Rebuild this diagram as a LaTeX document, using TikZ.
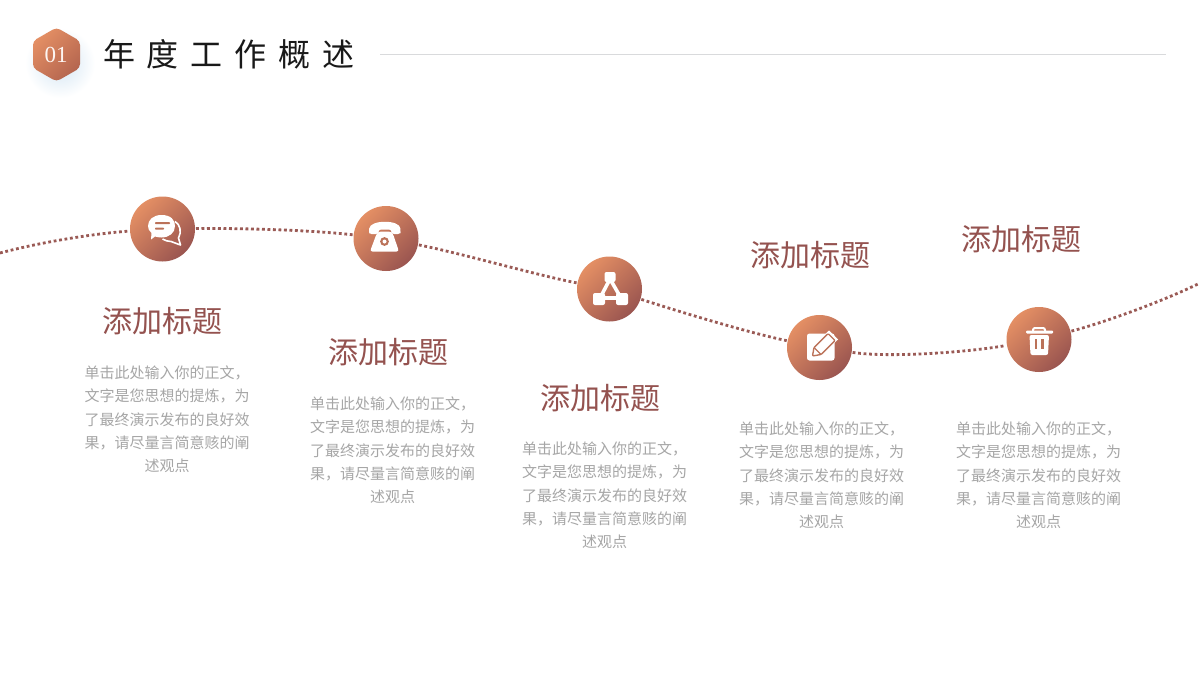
\documentclass[tikz,border=0pt]{standalone}
\usepackage{fontspec}
\setmainfont{Liberation Serif}
\newfontfamily\cjk{Noto Sans CJK SC}
\usetikzlibrary{calc}
\definecolor{gradA}{HTML}{E48F64}
\definecolor{gradB}{HTML}{9A5550}
\definecolor{hexB}{HTML}{B4654F}
\definecolor{midc}{HTML}{BB7259}
\definecolor{headc}{HTML}{94524F}
\definecolor{bodyc}{HTML}{A6A6A6}
\definecolor{dotc}{HTML}{9A5A55}
\definecolor{rulec}{HTML}{D9DADC}
\definecolor{glowc}{HTML}{D3E5F3}
\tikzset{
  disc/.style={circle,minimum size=65pt,inner sep=0pt,outer sep=1pt,top color=gradA,bottom color=gradB,shading angle=45},
  dots/.style={line width=2.8pt,dotc,dash pattern=on 2.8pt off 2.7pt},
  heading/.style={font=\cjk\fontsize{30}{34}\selectfont,text=headc,inner sep=0pt},
  bodytxt/.style={font=\cjk\fontsize{15}{23.3}\selectfont,text=bodyc,align=center,inner sep=0pt,anchor=center},
  ico/.style={fill=white,draw=none},
  cut/.style={fill=midc,draw=none}
}
\newcommand{\bodycopy}{单击此处输入你的正文，\\文字是您思想的提炼，为\\了最终演示发布的良好效\\果，请尽量言简意赅的阐\\述观点}
\begin{document}
\begin{tikzpicture}[x=1pt,y=-1pt]
\useasboundingbox (0,0) rectangle (1200,675);
\fill[white] (0,0) rectangle (1200,675);
% header
\shade[inner color=glowc,outer color=white] (60,63) circle (35);
\shade[top color=gradA,bottom color=hexB,shading angle=45,rounded corners=4pt]
  (56.5,27.5) -- (80,41) -- (80,68) -- (56.5,81.5) -- (33,68) -- (33,41) -- cycle;
\node[text=white!92!gradA,font=\fontsize{23}{26}\selectfont,inner sep=0pt] (num) at (56,55) {01};
\node[anchor=west,inner sep=0pt,font=\cjk\fontsize{32}{36}\selectfont,text=black!90] (title) at (103,54)
  {年\hspace{11.8pt}度\hspace{11.8pt}工\hspace{11.8pt}作\hspace{11.8pt}概\hspace{11.8pt}述};
\coordinate (ruleL) at (380,54.5);
\coordinate (ruleR) at (1166,54.5);
\draw[rulec,line width=1pt] (ruleL) -- (ruleR);
% discs
\node[disc] (c1) at (162.5,229) {};
\node[disc] (c2) at (386,238.5) {};
\node[disc] (c3) at (609.5,289) {};
\node[disc] (c4) at (819.5,347.5) {};
\node[disc] (c5) at (1039,339.5) {};
\coordinate (startL) at (0,253);
\coordinate (endR) at (1200,283);
% connectors
\draw[dots] (startL) .. controls (45,241) and (100,233) .. (c1);
\draw[dots] (c1) .. controls (240,228) and (310,230) .. (c2);
\draw[dots] (c2) .. controls (460,253) and (540,276) .. (c3);
\draw[dots] (c3) .. controls (680,312) and (750,333) .. (c4);
\draw[dots] (c4) .. controls (890,358) and (970,352) .. (c5);
\draw[dots] (c5) .. controls (1095,325) and (1155,305) .. (endR);
% chat icon
\draw[white,line width=1.6pt,line join=round] (175,221.5) .. controls (180,224) and (182,232) .. (178.5,238) -- (180.5,245) -- (171,241.5) .. controls (168,241.5) and (165,240.5) .. (162.5,239);
\fill[ico] (161.5,215) .. controls (171,215) and (175,220) .. (175,226) .. controls (175,233) and (169,237.5) .. (161.5,237.5)
  .. controls (159,237.5) and (157,237) .. (155,236.5) -- (151,239.5) -- (151.5,233) .. controls (149,231) and (148,228.5) .. (148,226) .. controls (148,220) and (153,215) .. (161.5,215) -- cycle;
\fill[cut,rounded corners=.8pt] (155,222) rectangle (170,224.2);
\fill[cut,rounded corners=.8pt] (155,227.5) rectangle (164,229.7);
% phone icon
\fill[ico,rounded corners=2.5pt] (369,231) .. controls (370,219.5) and (400,219.5) .. (400.5,231) -- (400.5,234) -- (391.5,234) -- (391.5,229.5) -- (378.5,229.5) -- (378.5,234) -- (369,234) -- cycle;
\fill[ico,rounded corners=2.5pt] (379,231.5) -- (391,231.5) -- (393,234) -- (399,251.5) -- (370,251.5) -- (376.5,234) -- cycle;
\fill[cut] (384.5,241.5) circle (4.4);
\fill[ico] (384.5,241.5) circle (2);
% network icon
\draw[white,line width=3.6pt,line join=round] (610,279) -- (600,298) -- (621,298) -- cycle;
\fill[ico,rounded corners=2pt] (604.5,272) rectangle (615.5,282);
\fill[ico,rounded corners=2pt] (593,293) rectangle (605,305);
\fill[ico,rounded corners=2pt] (616,293) rectangle (628,305);
% note icon
\fill[ico,rounded corners=2.5pt] (807,333.5) rectangle (834.5,360.5);
\fill[ico] (829,330.5) -- (838,339.5) -- (820,357) -- (811,348) -- cycle;
\draw[midc,line width=1.4pt,line join=round,rounded corners=1pt] (812.5,356) -- (814,347.5) -- (828,333.5) -- (835,340.5) -- (821,354.5) -- cycle;
\draw[midc,line width=1.2pt] (814.5,348) -- (820.5,354);
% trash icon
\draw[white,line width=2pt,rounded corners=2pt] (1033,332) -- (1033,328) -- (1045,328) -- (1045,332);
\fill[ico,rounded corners=1pt] (1026,330.5) rectangle (1053,333.5);
\fill[ico,rounded corners=2pt] (1029.5,335) -- (1049,335) -- (1048,355) -- (1030.5,355) -- cycle;
\fill[cut] (1035,339) rectangle (1037.2,349);
\fill[cut] (1041.3,339) rectangle (1043.5,349);
% headings
\node[heading] (h1) at (162.5,321) {添加标题};
\node[heading] (h2) at (388.5,352) {添加标题};
\node[heading] (h3) at (600.5,398) {添加标题};
\node[heading] (h4) at (810.5,255) {添加标题};
\node[heading] (h5) at (1021.5,239) {添加标题};
% body
\node[bodytxt] (b1) at (167,419.5) {\bodycopy};
\node[bodytxt] (b2) at (392.5,450.5) {\bodycopy};
\node[bodytxt] (b3) at (604.5,495.5) {\bodycopy};
\node[bodytxt] (b4) at (821.5,475.5) {\bodycopy};
\node[bodytxt] (b5) at (1038.5,475.5) {\bodycopy};
\end{tikzpicture}
\end{document}
